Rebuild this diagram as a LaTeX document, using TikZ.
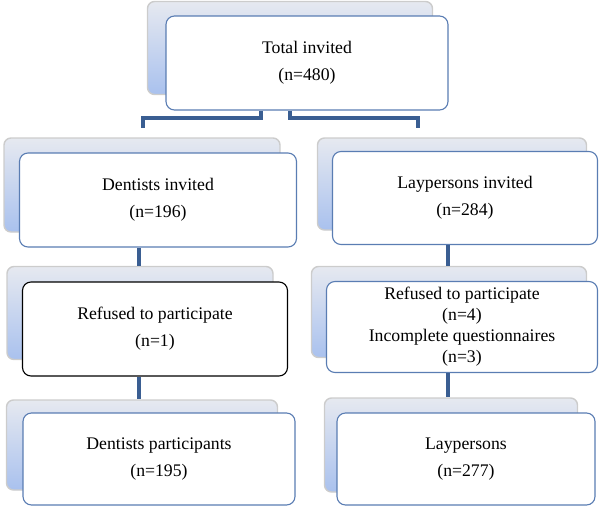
\documentclass[tikz,border=0pt]{standalone}
\usepackage{fontspec}
\setmainfont{Liberation Serif}
\definecolor{boxline}{HTML}{5A7DB3}
\definecolor{linkline}{HTML}{3A5E92}
\definecolor{backtop}{HTML}{E6E9F0}
\definecolor{backbot}{HTML}{A9C1EE}
\begin{document}
\begin{tikzpicture}[x=0.025cm,y=-0.025cm,
		boxsize/.style 2 args={minimum width=#1*0.025cm,minimum height=#2*0.025cm},
		back/.style={draw=gray!40,line width=1pt,rounded corners=5pt,
			top color=backtop,bottom color=backbot,inner sep=0pt},
		front/.style={draw=boxline,line width=0.8pt,fill=white,
			rounded corners=6pt,align=center,inner sep=0pt,
			font=\fontsize{12.6}{19}\selectfont},
		link/.style={draw=linkline,line width=2.7pt}]
		\useasboundingbox (0,0) rectangle (600,507);
		
		% shadow boxes
		\node[back,boxsize={285}{93}] (totb) at (290,48) {};
		\node[back,boxsize={276}{94}] (dinvb) at (142,185) {};
		\node[back,boxsize={266}{93}] (refLb) at (140,313) {};
		\node[back,boxsize={271}{90}] (dparb) at (142,445) {};
		\node[back,boxsize={269}{92}] (linvb) at (452,184) {};
		\node[back,boxsize={275}{91}] (refRb) at (449,312) {};
		\node[back,boxsize={253}{94}] (layb) at (451,445) {};
		
		% front boxes
		\node[front,boxsize={282}{94}] (tot) at (307,63) {Total invited\\(n=480)};
		\node[front,boxsize={277}{94}] (dinv) at (158,200) {Dentists invited\\(n=196)};
		\node[front,draw=black,boxsize={265}{94}] (refL) at (155,329) {Refused to participate\\(n=1)};
		\node[front,boxsize={272}{92}] (dpar) at (159,459) {Dentists participants\\(n=195)};
		\node[front,boxsize={265}{93}] (linv) at (465,198) {Laypersons invited\\(n=284)};
		\node[front,boxsize={271}{91},font=\fontsize{12.6}{15}\selectfont] (refR) at (462,327)
		{Refused to participate\\(n=4)\\Incomplete questionnaires\\(n=3)};
		\node[front,boxsize={258}{92}] (lay) at (466,459) {Laypersons\\(n=277)};
		
		% connectors
		\coordinate (dsplit) at (143,128);
		\coordinate (lsplit) at (418,128);
		\draw[link] (261,0 |- tot.south) -- (261,118) -- (143,118) -- (dsplit);
		\draw[link] (290,0 |- tot.south) -- (290,118) -- (418,118) -- (lsplit);
		\draw[link] (139,0 |- dinv.south) -- (139,0 |- refLb.north);
		\draw[link] (139,0 |- refL.south) -- (139,0 |- dparb.north);
		\draw[link] (448,0 |- linv.south) -- (448,0 |- refRb.north);
		\draw[link] (448,0 |- refR.south) -- (448,0 |- layb.north);
		\end{tikzpicture}
\end{document}
